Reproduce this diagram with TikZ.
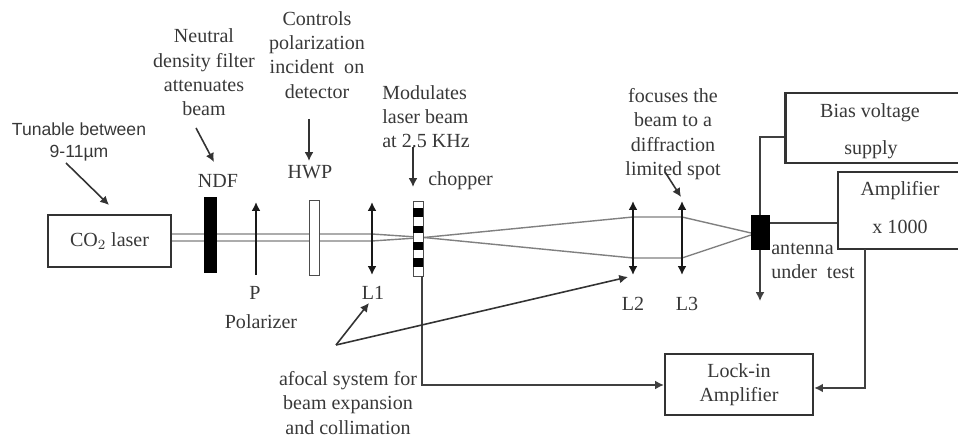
\documentclass[tikz,border=0pt]{standalone}
\usepackage{fontspec}
\setmainfont{Liberation Serif}
\newfontfamily\labelsans{Liberation Sans}
\usetikzlibrary{arrows.meta}
\begin{document}
\begin{tikzpicture}[
    x=0.02cm, y=-0.02cm,
    >={Latex[length=5pt,width=5pt]},
    every node/.style={text=black!78, font=\fontsize{11.4}{13.8}\selectfont},
    note/.style={align=center, inner sep=0pt},
    unitbox/.style={rectangle, draw=black!80, line width=1.3pt, inner sep=0pt},
    plate/.style={rectangle, draw=black!70, inner sep=0pt, minimum width=0.2cm, minimum height=1.5cm},
    beam/.style={draw=black!50, line width=0.8pt},
    wire/.style={draw=black!75, line width=0.8pt},
    pointer/.style={->, draw=black!80, line width=0.9pt},
    lens/.style={<->, draw=black!90, line width=1.2pt}
]
\useasboundingbox (0,0) rectangle (958,438);

% Beam path
\coordinate (b1) at (171,234);
\coordinate (b2) at (171,241);
\coordinate (b3) at (372,234);
\coordinate (b4) at (372,241);
\coordinate (cross) at (424,237.5);
\coordinate (c1) at (633,217);
\coordinate (c2) at (633,258);
\coordinate (c3) at (682,217);
\coordinate (c4) at (682,258);
\coordinate (f1) at (751,233);
\coordinate (f2) at (751,235);
\draw[beam] (b1) -- (b3) -- (cross) -- (c2) -- (c4) -- (f2);
\draw[beam] (b2) -- (b4) -- (cross) -- (c1) -- (c3) -- (f1);

% Boxes
\node[unitbox, minimum width=2.46cm, minimum height=1.04cm] (laser) at (109.5,241) {CO$_2$ laser};
\node[unitbox, minimum width=3.5cm, minimum height=1.4cm] (bias) at (873,128) {};
\node[unitbox, minimum width=2.44cm, minimum height=1.54cm] (amp) at (899,210.5) {};
\node[unitbox, minimum width=2.96cm, minimum height=1.22cm] (lockin) at (739,384.5) {};
\node (biastxt) at (870,113) {Bias voltage};
\node (supplytxt) at (871,150) {supply};
\node (amptxt) at (900,191) {Amplifier};
\node (gaintxt) at (900,227) {x 1000};
\node[note] (locktxt) at (739,385) {Lock-in\\Amplifier};

% Optics
\node[plate, fill=black, draw=black, minimum width=0.24cm] (ndf) at (210,234.5) {};
\node[plate, fill=white] (hwp) at (314,237.5) {};
\node[plate, fill=white, opacity=1] (chop) at (418,238.5) {};
\foreach \name/\ypos/\high in {s1/212.5/0.18cm, s2/229.5/0.15cm, s3/246/0.16cm, s4/262.5/0.18cm}
    \node[rectangle, fill=black, inner sep=0pt, minimum width=0.2cm, minimum height=\high] (\name) at (418,\ypos) {};
\node[rectangle, fill=black, inner sep=0pt, minimum width=0.38cm, minimum height=0.7cm] (ant) at (760,232.5) {};

% Polarizer and lenses
\coordinate (ptop) at (256,202);
\coordinate (pbot) at (256,275);
\draw[->, draw=black!90, line width=1.2pt] (pbot) -- (ptop);
\coordinate (l1top) at (372,202);
\coordinate (l1bot) at (372,275);
\coordinate (l2top) at (633,201);
\coordinate (l2bot) at (633,275);
\coordinate (l3top) at (682,201);
\coordinate (l3bot) at (682,275);
\draw[lens] (l1top) -- (l1bot);
\draw[lens] (l2top) -- (l2bot);
\draw[lens] (l3top) -- (l3bot);

% Signal lines
\coordinate (antend) at (760,301);
\coordinate (choplow) at (422,276);
\draw[wire] (bias.west |- 0,137) -| (ant.north);
\draw[wire, ->] (ant.south) -- (antend);
\draw[wire, line width=1.2pt] (ant.east |- 0,223) -- (amp.west |- 0,223);
\draw[wire, ->] (choplow) |- (lockin.west |- 0,385);
\draw[wire, ->, line width=1.2pt] (865,249) |- (lockin.east |- 0,388);

% Labels
\node[note, font=\labelsans\fontsize{10}{12}\selectfont] (tune) at (79,142) {Tunable between\\9-11µm};
\node[note] (ndfnote) at (204,72.5) {Neutral\\density filter\\attenuates\\beam};
\node[note] (hwpnote) at (317,55) {Controls\\polarization\\incident~ on\\detector};
\node[note, align=left, anchor=west] (chopnote) at (382,116.5) {Modulates\\laser beam\\at 2.5 KHz};
\node[note] (focusnote) at (673,134) {focuses the\\beam to a\\diffraction\\limited spot};
\node[note] (afocal) at (348,403) {afocal system for\\beam expansion\\and collimation};
\node[note, align=left, anchor=north west] (antnote) at (771,243) {antenna\\under~ test};
\node (ndflab) at (218,181) {NDF};
\node (hwplab) at (310,172) {HWP};
\node[anchor=west, inner sep=0pt] (choplab) at (428,181) {chopper};
\node (plab) at (255,293) {P};
\node (pollab) at (261,322) {Polarizer};
\node (l1lab) at (373,293) {L1};
\node (l2lab) at (633,304) {L2};
\node (l3lab) at (687,304) {L3};

% Pointers
\coordinate (tunea) at (66,163);
\coordinate (tuneb) at (109,205);
\coordinate (ndfa) at (196,128);
\coordinate (ndfb) at (214,162);
\coordinate (hwpa) at (309,119);
\coordinate (hwpb) at (309,161);
\coordinate (chopa) at (413,147);
\coordinate (chopb) at (413,187);
\coordinate (foca) at (665,172);
\coordinate (focb) at (681,197);
\coordinate (apex) at (336,345);
\coordinate (afa) at (369,303);
\coordinate (afb) at (628,277);
\draw[pointer] (tunea) -- (tuneb);
\draw[pointer] (ndfa) -- (ndfb);
\draw[pointer] (hwpa) -- (hwpb);
\draw[pointer] (chopa) -- (chopb);
\draw[pointer] (foca) -- (focb);
\draw[pointer] (apex) -- (afa);
\draw[pointer] (apex) -- (afb);

\end{tikzpicture}
\end{document}
